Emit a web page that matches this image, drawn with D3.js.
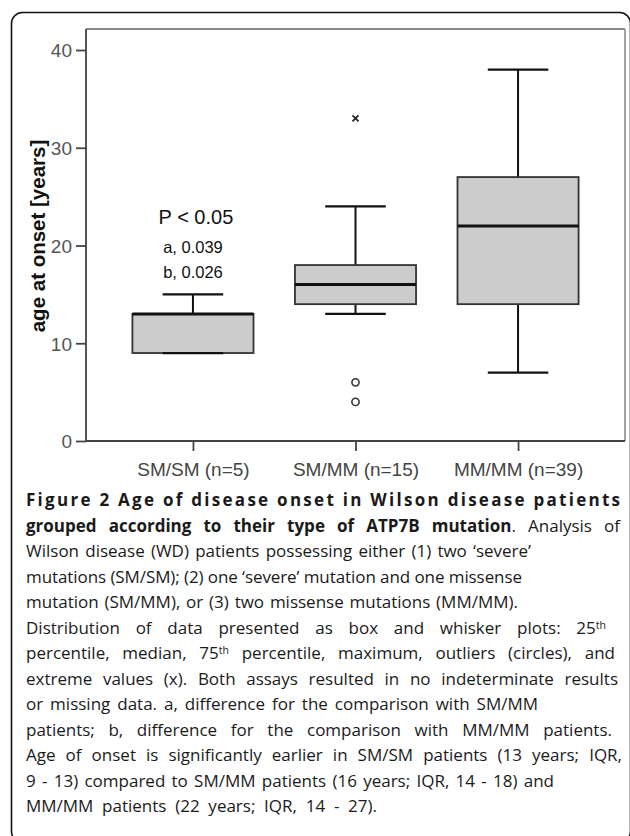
<!DOCTYPE html>
<html>
<head>
<meta charset="utf-8">
<script src="https://cdn.jsdelivr.net/npm/d3@7"></script>
<style>
  body { margin: 0; background: #fff; }
  svg { display: block; }
</style>
</head>
<body>
<div id="chart"></div>
<script>
// ── data ─────────────────────────────────────────────────────────────────────
const groups = ['SM/SM (n=5)', 'SM/MM (n=15)', 'MM/MM (n=39)'];
const whiskerLow = [9, 13, 7];
const q1 = [9, 14, 14];
const median = [13, 16, 22];
const q3 = [13, 18, 27];
const whiskerHigh = [15, 24, 38];
const outliers = [[], [6, 4], []];   // circles
const extremes = [[], [33], []];     // x marks
const yTicks = [0, 10, 20, 30, 40];
const yLabel = 'age at onset [years]';
const pLabel = 'P < 0.05';
const pNotes = ['a, 0.039', 'b, 0.026'];

// caption runs: b = bold, sup = superscript
const captionLines = [
  [{ t: 'Figure 2 Age of disease onset in Wilson disease patients', b: true }],
  [{ t: 'grouped according to their type of ATP7B mutation', b: true }, { t: '. Analysis of' }],
  [{ t: 'Wilson disease (WD) patients possessing either (1) two \u2018severe\u2019' }],
  [{ t: 'mutations (SM/SM); (2) one \u2018severe\u2019 mutation and one missense' }],
  [{ t: 'mutation (SM/MM), or (3) two missense mutations (MM/MM).' }],
  [{ t: 'Distribution of data presented as box and whisker plots: 25' }, { t: 'th', sup: true }],
  [{ t: 'percentile, median, 75' }, { t: 'th', sup: true }, { t: ' percentile, maximum, outliers (circles), and' }],
  [{ t: 'extreme values (x). Both assays resulted in no indeterminate results' }],
  [{ t: 'or missing data. a, difference for the comparison with SM/MM' }],
  [{ t: 'patients; b, difference for the comparison with MM/MM patients.' }],
  [{ t: 'Age of onset is significantly earlier in SM/SM patients (13 years; IQR,' }],
  [{ t: '9 - 13) compared to SM/MM patients (16 years; IQR, 14 - 18) and' }],
  [{ t: 'MM/MM patients (22 years; IQR, 14 - 27).' }]
];
// right edge of each caption line as set in the original
const captionEnds = [620, 620, 531, 522, 518, 606, 615, 618, 538, 612, 622, 554, 377];

// ── layout ───────────────────────────────────────────────────────────────────
const W = 630, H = 836;
const PLOT = { left: 86, right: 625, top: 29, bottom: 441 };
const FONT = 'Liberation Sans, Arial, sans-serif';
const CAP_FONT = '"Open Sans", sans-serif';

const svg = d3.select('#chart').append('svg').attr('width', W).attr('height', H);

// card border (runs off the right and bottom edges)
svg.append('rect')
  .attr('x', 11.5).attr('y', 12.5)
  .attr('width', 619).attr('height', 830)
  .attr('rx', 11)
  .attr('fill', 'none').attr('stroke', '#111').attr('stroke-width', 1.6);

const x = d3.scalePoint().domain(groups).range([PLOT.left, PLOT.right]).padding(0.658);
const y = d3.scaleLinear().domain([0, 42.15]).range([PLOT.bottom, PLOT.top]);
const boxW = x.step() * 0.745;
const capW = boxW / 2;

// frame (top / right lighter)
svg.append('line')
  .attr('x1', PLOT.left).attr('x2', PLOT.right)
  .attr('y1', PLOT.top).attr('y2', PLOT.top)
  .attr('stroke', '#8a8a8a').attr('stroke-width', 2.2);
svg.append('line')
  .attr('x1', PLOT.right).attr('x2', PLOT.right)
  .attr('y1', PLOT.top).attr('y2', PLOT.bottom)
  .attr('stroke', '#9a9a9a').attr('stroke-width', 1.8);

// ── axes ─────────────────────────────────────────────────────────────────────
const yAxis = svg.append('g')
  .attr('transform', `translate(${PLOT.left},0)`)
  .call(d3.axisLeft(y).tickValues(yTicks).tickSize(10).tickSizeOuter(0).tickPadding(4));
yAxis.select('.domain').attr('d', `M0,${PLOT.top}V${PLOT.bottom}`).attr('stroke', '#555').attr('stroke-width', 2);
yAxis.selectAll('.tick line').attr('stroke', '#444').attr('stroke-width', 1.8);
yAxis.selectAll('.tick text')
  .attr('font-family', FONT).attr('font-size', '19px').attr('fill', '#555').attr('dy', '0.36em');

const xAxis = svg.append('g')
  .attr('transform', `translate(0,${PLOT.bottom})`)
  .call(d3.axisBottom(x).tickSize(10).tickSizeOuter(0).tickPadding(12));
xAxis.select('.domain').attr('d', `M${PLOT.left},0H${PLOT.right}`).attr('stroke', '#444').attr('stroke-width', 2);
xAxis.selectAll('.tick line').attr('stroke', '#444').attr('stroke-width', 1.8);
xAxis.selectAll('.tick text')
  .attr('font-family', FONT).attr('font-size', '19px').attr('fill', '#444');

svg.append('text')
  .attr('transform', `translate(45,236) rotate(-90)`)
  .attr('text-anchor', 'middle')
  .attr('font-family', FONT).attr('font-size', '20.5px').attr('font-weight', 'bold')
  .attr('fill', '#111')
  .text(yLabel);

// ── boxes ────────────────────────────────────────────────────────────────────
groups.forEach((g, i) => {
  const cx = x(g);
  const grp = svg.append('g');

  // whiskers
  grp.append('line')
    .attr('x1', cx).attr('x2', cx)
    .attr('y1', y(q3[i])).attr('y2', y(whiskerHigh[i]))
    .attr('stroke', '#111').attr('stroke-width', 2);
  grp.append('line')
    .attr('x1', cx).attr('x2', cx)
    .attr('y1', y(q1[i])).attr('y2', y(whiskerLow[i]))
    .attr('stroke', '#111').attr('stroke-width', 2);

  // box
  grp.append('rect')
    .attr('x', cx - boxW / 2).attr('width', boxW)
    .attr('y', y(q3[i])).attr('height', y(q1[i]) - y(q3[i]))
    .attr('fill', '#cccccc').attr('stroke', '#333').attr('stroke-width', 1.8);

  // caps
  [whiskerLow[i], whiskerHigh[i]].forEach((v) => {
    grp.append('line')
      .attr('x1', cx - capW / 2).attr('x2', cx + capW / 2)
      .attr('y1', y(v)).attr('y2', y(v))
      .attr('stroke', '#111').attr('stroke-width', 2.2);
  });

  // median
  grp.append('line')
    .attr('x1', cx - boxW / 2).attr('x2', cx + boxW / 2)
    .attr('y1', y(median[i])).attr('y2', y(median[i]))
    .attr('stroke', '#111').attr('stroke-width', 3);

  outliers[i].forEach((v) => {
    grp.append('circle')
      .attr('cx', cx).attr('cy', y(v)).attr('r', 3.6)
      .attr('fill', '#fff').attr('stroke', '#333').attr('stroke-width', 1.6);
  });

  extremes[i].forEach((v) => {
    grp.append('path')
      .attr('d', `M${cx - 3},${y(v) - 3}L${cx + 3},${y(v) + 3}M${cx - 3},${y(v) + 3}L${cx + 3},${y(v) - 3}`)
      .attr('stroke', '#222').attr('stroke-width', 1.8);
  });
});

// ── significance note above SM/SM ────────────────────────────────────────────
const ax = x(groups[0]);
svg.append('text')
  .attr('x', ax + 3).attr('y', y(22.2))
  .attr('text-anchor', 'middle')
  .attr('font-family', FONT).attr('font-size', '20px').attr('fill', '#111')
  .text(pLabel);
pNotes.forEach((t, i) => {
  svg.append('text')
    .attr('x', ax).attr('y', y(19.2) + i * 24.5)
    .attr('text-anchor', 'middle')
    .attr('font-family', FONT).attr('font-size', '16.5px').attr('fill', '#111')
    .text(t);
});

// ── caption ──────────────────────────────────────────────────────────────────
const CAP_X = 26, CAP_Y0 = 506, CAP_LH = 25.5;
captionLines.forEach((runs, li) => {
  const txt = svg.append('text')
    .attr('x', CAP_X).attr('y', CAP_Y0 + li * CAP_LH)
    .attr('font-family', CAP_FONT).attr('font-size', '17px').attr('fill', '#1a1a1a');
  runs.forEach((r) => {
    const ts = txt.append('tspan').text(r.t);
    if (r.b) ts.attr('font-weight', 'bold');
    if (r.sup) ts.attr('font-size', '10.5px').attr('baseline-shift', '45%');
  });
  const target = captionEnds[li] - CAP_X;
  if (li === 0) {
    // bold title line is letter-spaced out to the full width
    txt.attr('textLength', target).attr('lengthAdjust', 'spacing');
    return;
  }
  const natural = txt.node().getComputedTextLength();
  const spaces = runs.map((r) => r.t).join('').split(' ').length - 1;
  if (natural < target && spaces > 0) {
    txt.attr('word-spacing', (target - natural) / spaces);
  } else if (natural > target) {
    txt.attr('textLength', target).attr('lengthAdjust', 'spacing');
  }
});
</script>
</body>
</html>
